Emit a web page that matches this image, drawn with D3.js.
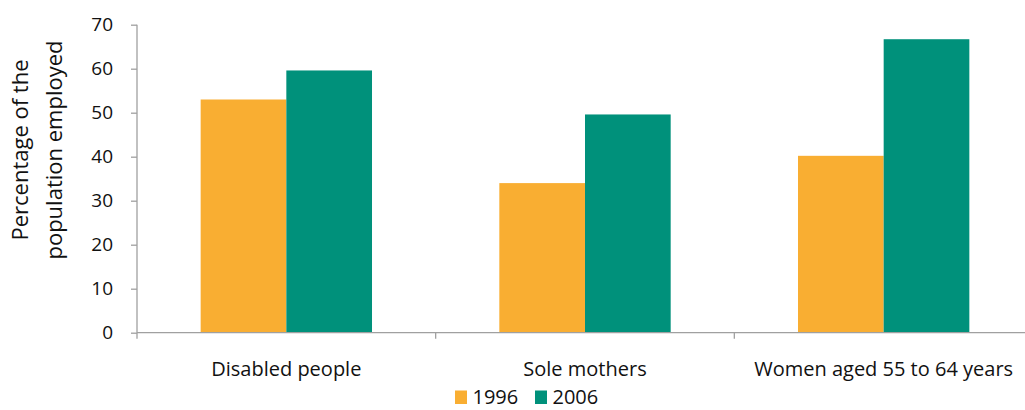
<!DOCTYPE html>
<html>
<head>
<meta charset="utf-8">
<script src="https://cdn.jsdelivr.net/npm/d3@7"></script>
<style>
  body { margin: 0; background: #fff; }
  text { font-family: "Open Sans", Lato, sans-serif; fill: #111; }
</style>
</head>
<body>
<div id="chart"></div>
<script>
const categories = ["Disabled people", "Sole mothers", "Women aged 55 to 64 years"];
const years = ["1996", "2006"];
const values1996 = [53.0, 34.0, 40.2];
const values2006 = [59.6, 49.6, 66.7];
const yTicks = [0, 10, 20, 30, 40, 50, 60, 70];
const colors = ["#F9AE32", "#00917B"];

const width = 1025;
const height = 410;
const axisColor = "#a0a0a0";
const tickFont = 19;
const labelFont = 20;

const svg = d3.select("#chart").append("svg")
    .attr("width", width)
    .attr("height", height);

const y = d3.scaleLinear().domain([0, 70]).range([332.7, 24.7]);
const x0 = d3.scaleBand().domain(categories).range([137, 1033]);
const x1 = d3.scaleBand().domain(years).range([0, x0.bandwidth()]).paddingOuter(0.743);

const rows = categories.map((c, i) => ({cat: c, vals: [values1996[i], values2006[i]]}));

// bars
const groups = svg.selectAll("g.grp")
  .data(rows)
  .join("g")
    .attr("class", "grp")
    .attr("transform", d => `translate(${x0(d.cat)},0)`);

groups.selectAll("rect")
  .data(d => d.vals.map((v, j) => ({year: years[j], v, j})))
  .join("rect")
    .attr("x", d => x1(d.year))
    .attr("width", x1.bandwidth())
    .attr("y", d => y(d.v))
    .attr("height", d => y(0) - y(d.v))
    .attr("fill", d => colors[d.j]);

// y axis
const yAxis = svg.append("g")
    .attr("transform", "translate(137,0)")
    .call(d3.axisLeft(y).tickValues(yTicks).tickSize(6).tickSizeOuter(0).tickPadding(18));
yAxis.select(".domain").remove();
yAxis.selectAll(".tick line").attr("stroke", axisColor).attr("stroke-width", 1.3);
yAxis.selectAll(".tick text").style("font-size", tickFont + "px").attr("fill", "#111");
svg.append("line")
    .attr("x1", 137).attr("x2", 137)
    .attr("y1", y(70)).attr("y2", y(0) + 6)
    .attr("stroke", axisColor).attr("stroke-width", 1.3);

// x axis
svg.append("line")
    .attr("x1", 137).attr("x2", width)
    .attr("y1", y(0)).attr("y2", y(0))
    .attr("stroke", axisColor).attr("stroke-width", 1.3);
const bounds = categories.slice(1).map(c => x0(c));
svg.selectAll("line.xtick")
  .data(bounds)
  .join("line")
    .attr("class", "xtick")
    .attr("x1", d => d).attr("x2", d => d)
    .attr("y1", y(0)).attr("y2", y(0) + 6)
    .attr("stroke", axisColor).attr("stroke-width", 1.3);

svg.selectAll("text.cat")
  .data(categories)
  .join("text")
    .attr("class", "cat")
    .attr("x", d => x0(d) + x0.bandwidth() / 2)
    .attr("y", 375.5)
    .attr("text-anchor", "middle")
    .style("font-size", labelFont + "px")
    .text(d => d);

// y title
const title = svg.append("text")
    .attr("transform", "translate(0,150) rotate(-90)")
    .attr("text-anchor", "middle")
    .style("font-size", "22px");
title.append("tspan").attr("x", 0).attr("y", 27.5).text("Percentage of the");
title.append("tspan").attr("x", 0).attr("y", 62).text("population employed");

// legend
const legendX = [455, 535];
const legend = svg.selectAll("g.leg")
  .data(years)
  .join("g")
    .attr("class", "leg")
    .attr("transform", (d, i) => `translate(${legendX[i]},390.5)`);
legend.append("rect")
    .attr("width", 12).attr("height", 13.5)
    .attr("fill", (d, i) => colors[i]);
legend.append("text")
    .attr("x", 17.5).attr("y", 13.3)
    .style("font-size", labelFont + "px")
    .text(d => d);
</script>
</body>
</html>
